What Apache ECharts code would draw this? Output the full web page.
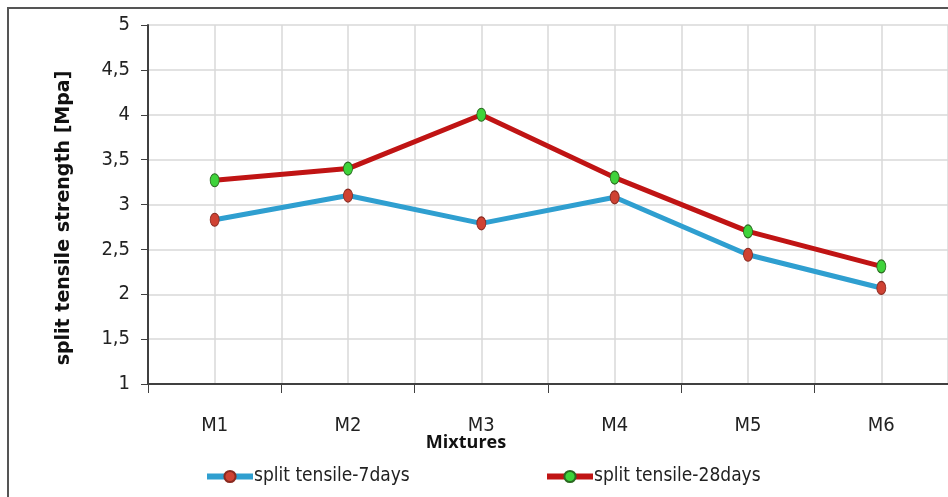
<!DOCTYPE html>
<html>
<head>
<meta charset="utf-8">
<script src="https://cdn.jsdelivr.net/npm/echarts@6/dist/echarts.min.js"></script>
<style>
html,body{margin:0;padding:0;background:#fff;}
#chart{width:948px;height:497px;}
</style>
</head>
<body>
<div id="chart"></div>
<script>
const categories = ['M1', 'M2', 'M3', 'M4', 'M5', 'M6'];
const split7days = [2.83, 3.10, 2.79, 3.08, 2.44, 2.07];
const split28days = [3.27, 3.40, 4.00, 3.30, 2.70, 2.31];
const seriesNames = ['split tensile-7days', 'split tensile-28days'];
const yTitle = 'split tensile strength [Mpa]';
const xTitle = 'Mixtures';

const FONT = "'Liberation Sans Narrow', 'DejaVu Sans Condensed', sans-serif";
const BOLD = "'Open Sans', 'Liberation Sans', sans-serif";

const chart = echarts.init(document.getElementById('chart'));
chart.setOption({
  animation: false,
  backgroundColor: '#fff',
  grid: { left: 148, right: 0, top: 25, bottom: 113, containLabel: false },
  xAxis: [{
    type: 'category',
    data: categories,
    boundaryGap: true,
    axisLine: { lineStyle: { color: '#404040', width: 2 } },
    axisTick: { show: true, length: 9, lineStyle: { color: '#404040', width: 1 } },
    axisLabel: { color: '#222', fontFamily: FONT, fontSize: 20, margin: 32 },
    splitLine: { show: false }
  }, {
    type: 'value',
    min: -0.5, max: 5.5, interval: 0.5,
    position: 'bottom',
    axisLine: { show: false }, axisTick: { show: false }, axisLabel: { show: false },
    splitLine: { show: true, lineStyle: { color: '#d9d9d9', width: 1.5 } }
  }],
  yAxis: {
    type: 'value',
    min: 1, max: 5, interval: 0.5,
    axisLine: { show: true, onZero: false, lineStyle: { color: '#404040', width: 2 } },
    axisTick: { show: true, length: 7, lineStyle: { color: '#404040' } },
    axisLabel: {
      color: '#222', fontFamily: FONT, fontSize: 20, margin: 18,
      formatter: v => String(v).replace('.', ',')
    },
    splitLine: { show: true, lineStyle: { color: '#d9d9d9', width: 1.5 } }
  },
  legend: [{
    data: [seriesNames[0]],
    left: 199, top: 462,
    itemWidth: 46, itemHeight: 14, itemGap: 2,
    lineStyle: { width: 6 },
    textStyle: { fontFamily: FONT, fontSize: 19, color: '#222', padding: [0, 0, 0, -4] }
  }, {
    data: [seriesNames[1]],
    left: 539, top: 462,
    itemWidth: 46, itemHeight: 14, itemGap: 2,
    lineStyle: { width: 6 },
    textStyle: { fontFamily: FONT, fontSize: 19, color: '#222', padding: [0, 0, 0, -4] }
  }],
  graphic: [{
    type: 'rect',
    shape: { x: 8, y: 8, width: 980, height: 540 },
    style: { fill: 'none', stroke: '#555', lineWidth: 2 },
    silent: true
  }, {
    type: 'text',
    x: 466, y: 443,
    style: {
      text: xTitle, fontFamily: BOLD, fontWeight: 'bold', fontSize: 18,
      fill: '#111', textAlign: 'center', textVerticalAlign: 'middle'
    }
  }, {
    type: 'text',
    x: 64, y: 218,
    rotation: Math.PI / 2,
    style: {
      text: yTitle, fontFamily: "'DejaVu Sans', sans-serif", fontWeight: 'bold', fontSize: 19,
      fill: '#111', textAlign: 'center', textVerticalAlign: 'middle'
    }
  }],
  series: [{
    name: seriesNames[0],
    type: 'line',
    data: split7days,
    symbol: 'circle',
    symbolSize: [9, 13],
    lineStyle: { color: '#2f9fd0', width: 5 },
    itemStyle: { color: '#cf4233', borderColor: '#8a2a20', borderWidth: 1 },
    z: 3
  }, {
    name: seriesNames[1],
    type: 'line',
    data: split28days,
    symbol: 'circle',
    symbolSize: [9, 13],
    lineStyle: { color: '#c01414', width: 5 },
    itemStyle: { color: '#3ed33a', borderColor: '#2a6a20', borderWidth: 1 },
    z: 3
  }]
});
</script>
</body>
</html>
